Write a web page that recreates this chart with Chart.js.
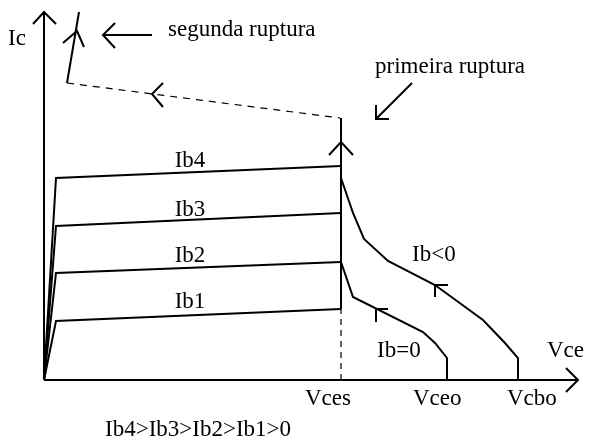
<!DOCTYPE html>
<html>
<head>
<meta charset="utf-8">
<title>Curvas Ic x Vce - ruptura</title>
<script src="https://cdn.jsdelivr.net/npm/chart.js@4/dist/chart.umd.min.js"></script>
<style>
  html, body { margin: 0; padding: 0; background: #fff; }
  #wrap { width: 589px; height: 441px; }
</style>
</head>
<body>
<div id="wrap"><canvas id="chart" width="589" height="441"></canvas></div>
<script>
// schematic units: Vce to the right, Ic up (arbitrary units)
const vces = 297;
const vceo = 403;
const vcbo = 474;

// output curves [Vce, Ic]
const ib4Curve = [[0, 0], [12, 202], [vces, 214]];
const ib3Curve = [[0, 0], [12, 154], [vces, 167]];
const ib2Curve = [[0, 0], [12, 107], [vces, 118]];
const ib1Curve = [[0, 0], [12, 59], [vces, 71]];
const ibNegCurve = [[vces, 202], [309, 167], [320, 141], [344, 119], [391, 95], [439, 60], [461, 37], [vcbo, 22], [vcbo, 0]];
const ibZeroCurve = [[vces, 118], [309, 83], [379, 48], [391, 37], [vceo, 22], [vceo, 0]];

// breakdown lines
const firstBreak = [[vces, 71], [vces, 262]];
const vcesDrop = [[vces, 0], [vces, 71]];
const secondBreakPath = [[23, 297], [296, 262]];
const secondBreak = [[23, 297], [35, 368]];

// axes
const icAxis = [[0, 0], [0, 368]];
const vceAxis = [[0, 0], [534, 0]];

// arrow heads / pointers
const icArrow = [[-11, 356], [0, 368], [12, 356]];
const vceArrow = [[522, 12], [534, 0], [522, -12]];
const firstBreakArrow = [[285, 225], [vces, 238], [309, 225]];
const secondBreakArrow = [[19, 337], [33, 349], [40, 333]];
const pathArrow = [[119, 297], [108, 286], [119, 273]];
const segundaPointer = [[108, 345], [59, 345]];
const segundaHead = [[71, 357], [59, 345], [71, 332]];
const primeiraPointer = [[368, 297], [332, 261]];
const primeiraHead = [[332, 275], [332, 261], [345, 261]];
const ibNegTick = [[404, 95], [391, 95], [391, 83]];
const ibZeroTick = [[344, 71], [332, 71], [332, 58]];

// text labels [text, x, y, align]
const labels = [
  ['Ic', -36, 335, 'left'],
  ['segunda ruptura', 124, 344, 'left'],
  ['primeira ruptura', 331, 307, 'left'],
  ['Ib4', 146, 213, 'center'],
  ['Ib3', 146, 164, 'center'],
  ['Ib2', 146, 118, 'center'],
  ['Ib1', 146, 72, 'center'],
  ['Ib<0', 368, 119, 'left'],
  ['Ib=0', 333, 23, 'left'],
  ['Vce', 503, 23, 'left'],
  ['Vces', 261, -25, 'left'],
  ['Vceo', 369, -25, 'left'],
  ['Vcbo', 463, -25, 'left'],
  ['Ib4>Ib3>Ib2>Ib1>0', 61, -56, 'left']
];

const toPts = arr => arr.map(p => ({ x: p[0], y: p[1] }));

function line(arr, width, dash)
{
    return {
        data: toPts(arr),
        showLine: true,
        borderColor: '#000',
        borderWidth: width,
        borderDash: dash || [],
        pointRadius: 0,
        fill: false,
        tension: 0
    };
}

const textPlugin = {
    id: 'schematicText',
    afterDatasetsDraw(chart) {
        const ctx = chart.ctx;
        const xs = chart.scales.x;
        const ys = chart.scales.y;
        ctx.save();
        ctx.fillStyle = '#000';
        ctx.font = '23px "Liberation Serif", "Times New Roman", serif';
        ctx.textBaseline = 'alphabetic';
        labels.forEach(l => {
            ctx.textAlign = l[3];
            ctx.fillText(l[0], xs.getPixelForValue(l[1]), ys.getPixelForValue(l[2]));
        });
        ctx.restore();
    }
};

new Chart(document.getElementById('chart'), {
    type: 'scatter',
    data: {
        datasets: [
            line(icAxis, 2),
            line(vceAxis, 2),
            line(icArrow, 2),
            line(vceArrow, 2),
            line(ib4Curve, 2),
            line(ib3Curve, 2),
            line(ib2Curve, 2),
            line(ib1Curve, 2),
            line(ibNegCurve, 2),
            line(ibZeroCurve, 2),
            line(firstBreak, 2),
            line(vcesDrop, 1.2, [6, 5]),
            line(secondBreakPath, 1.2, [7, 6]),
            line(secondBreak, 2),
            line(firstBreakArrow, 2),
            line(secondBreakArrow, 2),
            line(pathArrow, 2),
            line(segundaPointer, 2),
            line(segundaHead, 2),
            line(primeiraPointer, 2),
            line(primeiraHead, 2),
            line(ibNegTick, 2),
            line(ibZeroTick, 2)
        ]
    },
    options: {
        responsive: false,
        animation: false,
        devicePixelRatio: 1,
        layout: { padding: 0 },
        plugins: {
            legend: { display: false },
            tooltip: { enabled: false }
        },
        scales: {
            x: { type: 'linear', min: -44, max: 545, display: false },
            y: { type: 'linear', min: -61, max: 380, display: false }
        }
    },
    plugins: [textPlugin]
});
</script>
</body>
</html>
